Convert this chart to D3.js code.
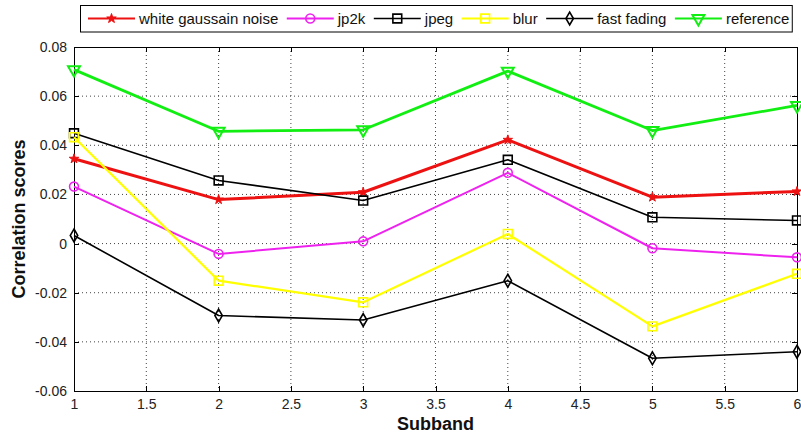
<html lang="en">
<head>
<meta charset="UTF-8">
<title>Correlation scores per subband</title>
<script src="https://d3js.org/d3.v7.min.js"></script>
<style>
  body { margin: 0; background: #fff; }
  svg { display: block; font-family: Arial, "Liberation Sans", sans-serif; }
  .grid line { stroke: #444; stroke-dasharray: 1,3; stroke-width: 1; }
  .axis path, .axis line { stroke: #000; shape-rendering: crispEdges; }
  .axis text { font-size: 14px; fill: #222; font-family: Arial, "Liberation Sans", sans-serif; }
  .label { font-size: 18px; font-weight: bold; fill: #111; }
  .legend text { font-size: 15px; fill: #111; }
</style>
</head>
<body>
<div id="chart"></div>
<script>
// data
const subbands = [1, 2, 3, 4, 5, 6];
const wgn        = [0.0345, 0.0179, 0.0209, 0.0422, 0.0189, 0.0212];
const jp2k       = [0.0232, -0.0042, 0.0009, 0.0288, -0.0019, -0.0056];
const jpeg       = [0.0449, 0.0257, 0.0175, 0.0341, 0.0107, 0.0094];
const blur       = [0.0433, -0.0151, -0.0239, 0.0039, -0.0337, -0.0123];
const fastFading = [0.0033, -0.0293, -0.0311, -0.0151, -0.0467, -0.0440];
const reference  = [0.0708, 0.0457, 0.0463, 0.0702, 0.0460, 0.0562];

const seriesNames = ["white gaussain noise", "jp2k", "jpeg", "blur", "fast fading", "reference"];
const xTicks = [1, 1.5, 2, 2.5, 3, 3.5, 4, 4.5, 5, 5.5, 6];
const xTickLabels = ["1", "1.5", "2", "2.5", "3", "3.5", "4", "4.5", "5", "5.5", "6"];
const yTicks = [-0.06, -0.04, -0.02, 0, 0.02, 0.04, 0.06, 0.08];
const yTickLabels = ["-0.06", "-0.04", "-0.02", "0", "0.02", "0.04", "0.06", "0.08"];

const W = 801, H = 434;
const margin = { top: 47, right: 4, bottom: 43, left: 74 };

const svg = d3.select("#chart").append("svg")
  .attr("width", W).attr("height", H);

const x = d3.scaleLinear().domain([1, 6]).range([margin.left, W - margin.right]);
const y = d3.scaleLinear().domain([-0.06, 0.08]).range([H - margin.bottom, margin.top]);

// styles per series
const styles = [
  { color: "#ee1111", width: 3,   marker: "star" },
  { color: "#ee22ee", width: 2,   marker: "circle" },
  { color: "#000000", width: 1.6, marker: "square" },
  { color: "#ffff00", width: 2.2, marker: "square" },
  { color: "#000000", width: 1.6, marker: "diamond" },
  { color: "#11ee11", width: 2.8, marker: "triangle" }
];
const values = [wgn, jp2k, jpeg, blur, fastFading, reference];
const series = seriesNames.map((name, i) => ({
  name, style: styles[i],
  points: subbands.map((s, j) => ({ x: s, y: values[i][j] }))
}));

// grid
const grid = svg.append("g").attr("class", "grid");
grid.selectAll(".gx").data(xTicks.slice(1, -1)).enter().append("line")
  .attr("x1", d => x(d)).attr("x2", d => x(d))
  .attr("y1", y(0.08)).attr("y2", y(-0.06));
grid.selectAll(".gy").data(yTicks.slice(1, -1)).enter().append("line")
  .attr("x1", x(1)).attr("x2", x(6))
  .attr("y1", d => y(d)).attr("y2", d => y(d));

// axes (MATLAB style: inward ticks, full box)
const fmtX = d => xTickLabels[xTicks.indexOf(d)];
const fmtY = d => yTickLabels[yTicks.findIndex(v => Math.abs(v - d) < 1e-9)];

svg.append("g").attr("class", "axis")
  .attr("transform", `translate(0,${y(-0.06)})`)
  .call(d3.axisBottom(x).tickValues(xTicks).tickFormat(fmtX).tickSizeInner(-5).tickSizeOuter(0).tickPadding(8.5));
svg.append("g").attr("class", "axis")
  .attr("transform", `translate(0,${y(0.08)})`)
  .call(d3.axisTop(x).tickValues(xTicks).tickFormat("").tickSizeInner(-5).tickSizeOuter(0));
svg.append("g").attr("class", "axis")
  .attr("transform", `translate(${x(1)},0)`)
  .call(d3.axisLeft(y).tickValues(yTicks).tickFormat(fmtY).tickSizeInner(-5).tickSizeOuter(0).tickPadding(7));
svg.append("g").attr("class", "axis")
  .attr("transform", `translate(${x(6)},0)`)
  .call(d3.axisRight(y).tickValues(yTicks).tickFormat("").tickSizeInner(-5).tickSizeOuter(0));

// lines
const line = d3.line().x(d => x(d.x)).y(d => y(d.y));
const symbolFor = {
  star: d3.symbol().type(d3.symbolStar).size(28),
  circle: d3.symbol().type(d3.symbolCircle).size(62),
  square: d3.symbol().type(d3.symbolSquare).size(78),
  diamond: d3.symbol().type(d3.symbolDiamond).size(48),
  triangle: d3.symbol().type(d3.symbolTriangle).size(62)
};
function drawMarker(g, st) {
  const p = g.append("path").attr("d", symbolFor[st.marker]());
  if (st.marker === "star") {
    p.attr("fill", st.color).attr("stroke", st.color).attr("stroke-width", 1);
  } else if (st.marker === "triangle") {
    p.attr("transform", "rotate(180)").attr("fill", "none")
      .attr("stroke", st.color).attr("stroke-width", 2);
  } else {
    p.attr("fill", "none").attr("stroke", st.color).attr("stroke-width", 1.6);
  }
}

series.forEach(s => {
  svg.append("path").datum(s.points)
    .attr("fill", "none").attr("stroke", s.style.color)
    .attr("stroke-width", s.style.width).attr("stroke-linejoin", "round")
    .attr("d", line);
  svg.append("g").selectAll("g").data(s.points).enter().append("g")
    .attr("transform", d => `translate(${x(d.x)},${y(d.y)})`)
    .each(function () { drawMarker(d3.select(this), s.style); });
});

// axis labels
svg.append("text").attr("class", "label")
  .attr("x", (x(1) + x(6)) / 2).attr("y", 430)
  .attr("text-anchor", "middle").text("Subband");
svg.append("text").attr("class", "label")
  .attr("transform", `translate(24.5,${(y(0.08) + y(-0.06)) / 2}) rotate(-90)`)
  .attr("text-anchor", "middle").text("Correlation scores");

// legend
const legend = svg.append("g").attr("class", "legend");
const box = legend.append("rect")
  .attr("x", 80.5).attr("y", 5.5).attr("height", 26.5)
  .attr("fill", "#fff").attr("stroke", "#000").attr("stroke-width", 1);
let cx = 88;
const lineLen = 47, midY = 18.5;
series.forEach(s => {
  const g = legend.append("g");
  g.append("line").attr("x1", cx).attr("x2", cx + lineLen)
    .attr("y1", midY).attr("y2", midY)
    .attr("stroke", s.style.color).attr("stroke-width", Math.min(s.style.width, 2));
  drawMarker(g.append("g").attr("transform", `translate(${cx + lineLen / 2},${midY})`), s.style);
  const t = g.append("text").attr("x", cx + lineLen + 4).attr("y", 24).text(s.name);
  cx += lineLen + 4 + t.node().getComputedTextLength() + 8.5;
});
box.attr("width", cx - 8.5 + 3 - 80.5);
</script>
</body>
</html>
